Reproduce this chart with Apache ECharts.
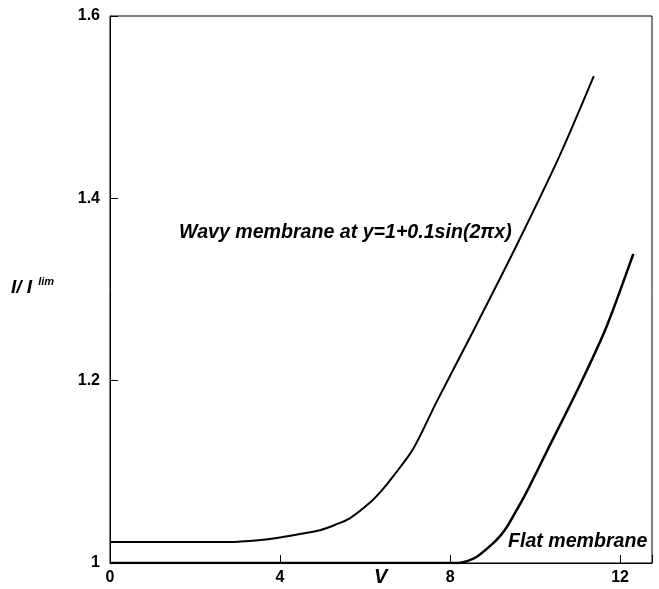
<!DOCTYPE html>
<html>
<head>
<meta charset="utf-8">
<script src="https://cdn.jsdelivr.net/npm/echarts@6/dist/echarts.min.js"></script>
<style>html,body{margin:0;padding:0;background:#fff;}#c{width:659px;height:589px;}</style>
</head>
<body>
<div id="c"></div>
<script>
// Wavy membrane curve: [V, I/I_lim]
var wavyV = [0, 2.8, 3.5, 4.0, 4.5, 4.94, 5.3, 5.64, 6.11, 6.4, 6.66, 7.13, 7.68, 8.54, 9.56, 10.57, 11.38];
var wavyI = [1.023, 1.023, 1.025, 1.028, 1.032, 1.036, 1.042, 1.049, 1.066, 1.08, 1.095, 1.125, 1.1765, 1.254, 1.348, 1.446, 1.534];
// Flat membrane curve
var flatV = [0, 8.19, 8.4, 8.62, 8.85, 9.09, 9.3, 9.48, 9.79, 10.26, 11.05, 11.67, 12.31];
var flatI = [1.0, 1.0, 1.002, 1.0066, 1.015, 1.025, 1.037, 1.051, 1.077, 1.121, 1.195, 1.258, 1.339];
var xTicks = [0, 4, 8, 12];
var yTicks = [1, 1.2, 1.4, 1.6];

function pairs(xs, ys) { return xs.map(function (x, i) { return [x, ys[i]]; }); }

var chart = echarts.init(document.getElementById('c'), null, {renderer: 'canvas'});
var font = 'Liberation Sans, Arial, sans-serif';
chart.setOption({
  animation: false,
  backgroundColor: '#fff',
  grid: {left: 110, right: 7, top: 16, bottom: 26, show: true, borderColor: '#000', borderWidth: 1, backgroundColor: 'transparent'},
  xAxis: {
    type: 'value', min: 0, max: 12.75, interval: 4,
    axisLine: {show: true, onZero: false, lineStyle: {color: '#000', width: 1}},
    axisTick: {show: true, inside: true, length: 8, lineStyle: {color: '#000'}},
    splitLine: {show: false},
    axisLabel: {
      color: '#000', fontFamily: font, fontWeight: 'bold', fontSize: 16, margin: 7,
      formatter: function (v) { return xTicks.indexOf(v) >= 0 ? String(v) : ''; }
    }
  },
  yAxis: {
    type: 'value', min: 1, max: 1.6, interval: 0.2,
    axisLine: {show: true, onZero: false, lineStyle: {color: '#000', width: 1}},
    axisTick: {show: true, inside: true, length: 8, lineStyle: {color: '#000'}},
    splitLine: {show: false},
    axisLabel: {
      color: '#000', fontFamily: font, fontWeight: 'bold', fontSize: 16, margin: 10,
      formatter: function (v) {
        var r = Math.round(v * 10) / 10;
        return yTicks.indexOf(r) >= 0 ? String(r) : '';
      }
    }
  },
  graphic: [
    {type: 'text', left: 11, top: 276, style: {
      text: '{a|I/ I}{b|  lim}', fill: '#000',
      rich: {
        a: {fontFamily: font, fontWeight: 'bold', fontStyle: 'italic', fontSize: 19, fill: '#000', verticalAlign: 'bottom'},
        b: {fontFamily: font, fontStyle: 'italic', fontWeight: 'bold', fontSize: 11, fill: '#000', verticalAlign: 'top', padding: [0, 0, 10, 0]}
      }
    }},
    {type: 'text', left: 374, top: 567, style: {text: 'V', fill: '#000', font: 'italic bold 20px ' + font}},
    {type: 'text', left: 179, top: 223, style: {text: 'Wavy membrane at y=1+0.1sin(2\u03c0x)', fill: '#000', font: 'italic bold 19.6px ' + font}},
    {type: 'text', left: 508, top: 532, style: {text: 'Flat membrane', fill: '#000', font: 'italic bold 19.6px ' + font}}
  ],
  series: [
    {type: 'line', data: pairs(wavyV, wavyI), smooth: 0.3, symbol: 'none', lineStyle: {color: '#000', width: 2}},
    {type: 'line', data: pairs(flatV, flatI), smooth: 0.3, symbol: 'none', lineStyle: {color: '#000', width: 2.5}}
  ]
});
</script>
</body>
</html>
